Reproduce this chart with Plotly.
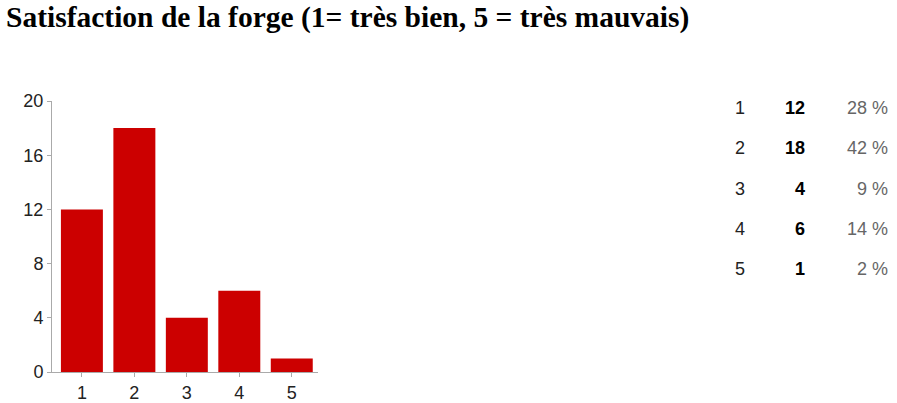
import plotly.graph_objects as go

categories = ["1", "2", "3", "4", "5"]
counts = [12, 18, 4, 6, 1]
percents = ["28 %", "42 %", "9 %", "14 %", "2 %"]
y_ticks = [0, 4, 8, 12, 16, 20]

W, H = 897, 403
L, R, T, B = 52, 318, 101, 372  # plot area in px

def px_x(x):
    return (x - L) / (R - L)

def px_y(y):
    return (B - y) / (B - T)

fig = go.Figure()
fig.add_trace(go.Bar(
    x=categories, y=counts, marker=dict(color="#cc0000", line=dict(width=0)),
    width=0.8, hoverinfo="skip",
))

row_y = [108, 148, 189, 229, 269]
ann = []
for i, c in enumerate(categories):
    yy = px_y(row_y[i])
    ann.append(dict(x=px_x(747), y=yy, xref="paper", yref="paper", text=c, showarrow=False,
                    xanchor="right", yanchor="middle",
                    font=dict(family="Liberation Sans, Arial", size=18, color="#222222")))
    ann.append(dict(x=px_x(807), y=yy, xref="paper", yref="paper", text="<b>%d</b>" % counts[i],
                    showarrow=False, xanchor="right", yanchor="middle",
                    font=dict(family="Liberation Sans, Arial", size=18, color="#000000")))
    ann.append(dict(x=px_x(890), y=yy, xref="paper", yref="paper", text=percents[i],
                    showarrow=False, xanchor="right", yanchor="middle",
                    font=dict(family="Liberation Sans, Arial", size=18, color="#666666")))

ann.append(dict(x=px_x(4), y=px_y(18), xref="paper", yref="paper",
                text="<b>Satisfaction de la forge (1= très bien, 5 = très mauvais)</b>",
                showarrow=False, xanchor="left", yanchor="middle",
                font=dict(family="Liberation Serif, Times New Roman", size=29.5, color="#000000")))

fig.update_layout(
    width=W, height=H, autosize=False,
    margin=dict(l=L, r=W - R, t=T, b=H - B, pad=0),
    plot_bgcolor="white", paper_bgcolor="white",
    showlegend=False, bargap=0.2,
    annotations=ann,
    xaxis=dict(range=[-0.57, 4.5], showgrid=False, zeroline=False, showline=True, automargin=False,
               linecolor="#aaaaaa", linewidth=1, ticks="outside", ticklen=4, tickcolor="#aaaaaa",
               tickfont=dict(family="Liberation Sans, Arial", size=18, color="#222222"),
               fixedrange=True),
    yaxis=dict(range=[0, 20], tickvals=y_ticks, showgrid=False, zeroline=False, showline=True,
               automargin=False,
               linecolor="#aaaaaa", linewidth=1, ticks="outside", ticklen=4, tickcolor="#aaaaaa",
               tickfont=dict(family="Liberation Sans, Arial", size=18, color="#222222"),
               fixedrange=True),
)
fig.write_html("out.html", config={"displayModeBar": False},
               post_script="document.body.style.margin='0';document.body.style.overflow='hidden';")
